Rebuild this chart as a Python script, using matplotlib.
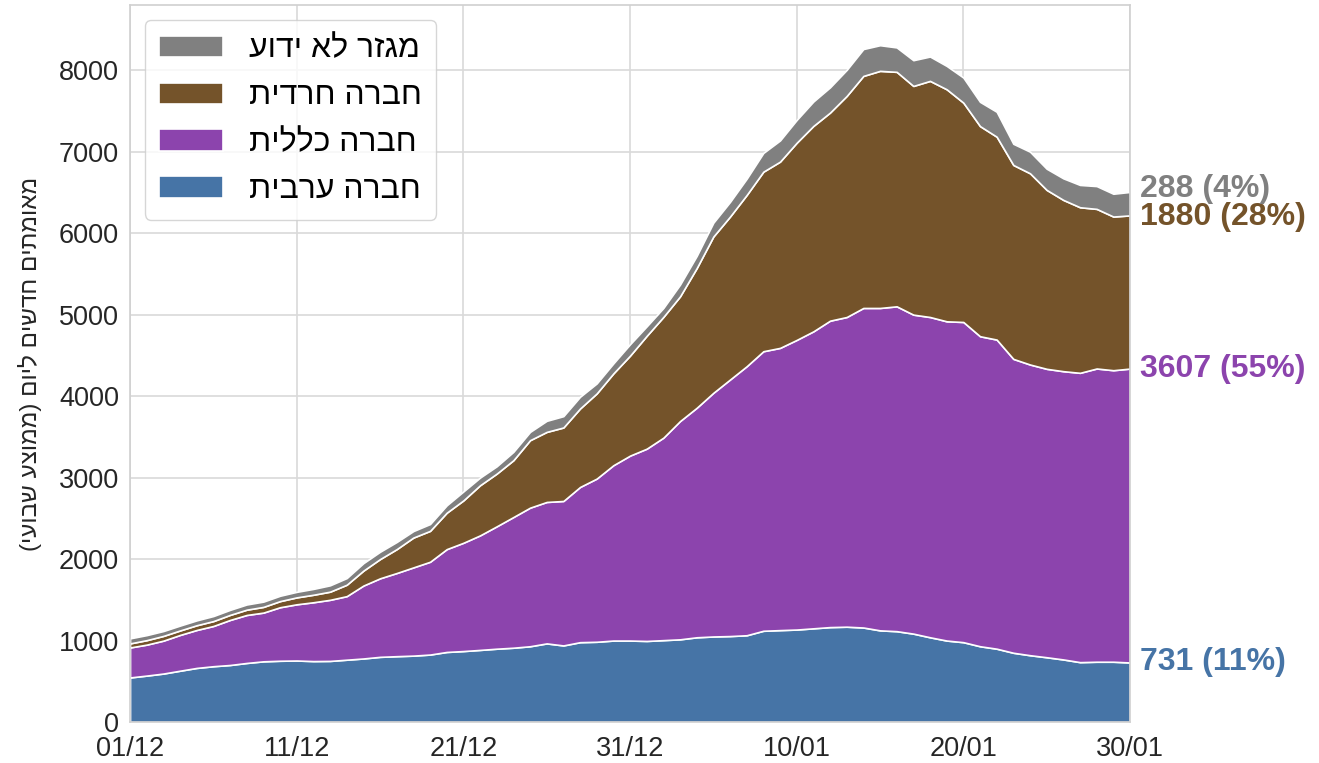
import numpy as np
import pandas as pd
import matplotlib
matplotlib.use("Agg")
from matplotlib import pyplot as plt
import matplotlib.dates as mdates

plt.rcParams['font.family'] = ['Liberation Sans', 'DejaVu Sans']

# daily new cases (weekly average) per sector, 01/12 .. 30/01
dates = pd.date_range('2020-12-01', '2021-01-30', freq='D')

arab = [547, 570, 595, 630, 664, 685, 700, 725, 745, 752,
        755, 748, 750, 765, 780, 800, 808, 815, 828, 860,
        871, 885, 900, 912, 930, 965, 940, 980, 985, 1000,
        1000, 995, 1005, 1015, 1040, 1050, 1055, 1065, 1120, 1128,
        1135, 1150, 1165, 1170, 1160, 1125, 1115, 1085, 1040, 1000,
        980, 930, 900, 850, 820, 795, 768, 735, 740, 740,
        731]
general = [368, 380, 404, 439, 466, 494, 553, 589, 598, 657,
           690, 722, 750, 780, 895, 964, 1021, 1083, 1139, 1262,
           1329, 1406, 1502, 1604, 1701, 1736, 1773, 1905, 2003, 2152,
           2270, 2360, 2485, 2679, 2817, 2991, 3149, 3302, 3431, 3464,
           3555, 3645, 3761, 3801, 3922, 3957, 3987, 3915, 3931, 3918,
           3930, 3805, 3794, 3607, 3568, 3540, 3538, 3551, 3599, 3578,
           3607]
haredi = [50, 55, 58, 55, 58, 60, 62, 65, 70, 75,
          85, 92, 100, 140, 183, 236, 293, 366, 379, 447,
          520, 615, 647, 697, 828, 860, 902, 963, 1045, 1127,
          1227, 1385, 1482, 1530, 1714, 1918, 2000, 2102, 2204, 2286,
          2420, 2521, 2554, 2713, 2848, 2910, 2878, 2807, 2898, 2848,
          2692, 2579, 2490, 2380, 2347, 2196, 2102, 2032, 1959, 1886,
          1880]
unknown = [62, 62, 60, 60, 60, 62, 62, 64, 65, 66,
           68, 72, 78, 82, 92, 90, 88, 80, 84, 91,
           110, 94, 90, 103, 102, 136, 139, 144, 123, 123,
           140, 117, 110, 145, 150, 170, 180, 200, 230, 260,
           280, 300, 310, 320, 330, 315, 300, 316, 299, 287,
           308, 298, 306, 260, 265, 260, 265, 274, 280, 280,
           288]

labels = ['חברה ערבית', 'חברה כללית', 'חברה חרדית', 'מגזר לא ידוע']
colors = ['#4674a6', '#8c44ad', '#74532a', '#808080']

def vis(s):
    # matplotlib has no bidi support: reverse to visual order, mirror brackets
    s = s[::-1]
    return s.translate(str.maketrans('()', ')('))

fig = plt.figure(figsize=(13.19, 7.63), dpi=100)
ax = fig.add_axes([0.0986, 0.0537, 0.7581, 0.9397])

series = [arab, general, haredi, unknown]
polys = ax.stackplot(dates, *series, colors=colors, labels=[vis(l) for l in labels],
                     edgecolor='white', linewidth=1.2)

ax.set_xlim(dates[0], dates[-1])
ax.set_ylim(0, 8800)
ax.set_yticks(np.arange(0, 8001, 1000))
ax.set_xticks(dates[::10])
ax.xaxis.set_major_formatter(mdates.DateFormatter('%d/%m'))

ax.grid(True, color='#d9d9d9', linewidth=1.2)
ax.set_axisbelow(True)
for sp in ax.spines.values():
    sp.set_color('#d0d0d0')
    sp.set_linewidth(1.2)
ax.tick_params(length=0, labelsize=19.5, colors='#262626', pad=8)
ax.tick_params(axis='x', pad=10)

ax.set_ylabel(vis('מאומתים חדשים ליום (ממוצע שבועי)'), fontsize=17.5,
              color='#262626', labelpad=12)

# value / share labels at the right end
total = sum(s[-1] for s in series)
cum = np.cumsum([s[-1] for s in series])
nudge = [0, 0, -1.5, 2]
for s, top, c, dy in zip(series, cum, colors, nudge):
    ax.annotate('%d (%d%%)' % (s[-1], int(100 * s[-1] / total)),
                xy=(dates[-1], top), xytext=(7, dy), textcoords='offset points',
                va='center', ha='left', fontsize=23, fontweight='bold',
                color=c, annotation_clip=False)

h, l = ax.get_legend_handles_labels()
leg = ax.legend(h[::-1], l[::-1], loc='upper left', fontsize=23,
                handlelength=2.0, handleheight=0.65, labelspacing=0.53,
                borderpad=0.45, handletextpad=0.8, frameon=True,
                borderaxespad=0, bbox_to_anchor=(0.015, 0.979))
leg.get_frame().set_edgecolor('#cccccc')

plt.savefig('out.png', dpi=100)
